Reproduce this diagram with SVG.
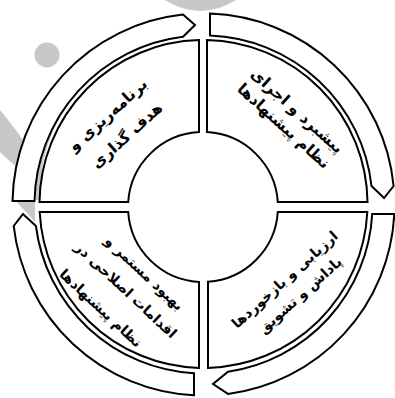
<svg xmlns="http://www.w3.org/2000/svg" width="395" height="398" viewBox="0 0 395 398">
<style>
.wm{fill:#c8c8c8;stroke:none}
.arrow{fill:#fff;stroke:#000;stroke-width:2;stroke-linejoin:miter}
.seg{fill:#fff;stroke:#000;stroke-width:2}
.t{font-family:"DejaVu Sans","Noto Sans",sans-serif;font-weight:bold;font-size:15.5px;text-anchor:middle;fill:#000}
.s{font-size:14px}
</style>
<rect width="395" height="398" fill="#fff"/>
<g id="watermark">
<circle class="wm" cx="47" cy="55" r="12.5"/>
<path class="wm" d="M165,0 Q200,22 236,0 Z"/>
<path class="wm" d="M0,110 Q18,132 24,142 L20,170 Q8,160 0,152 Z"/>
<path class="wm" d="M12,197 L35,197 L35,222 Z"/>
<path d="M38,200 A166.5 166.5 0 0 1 115,55" fill="none" stroke="#c8c8c8" stroke-width="4"/>
</g>
<g id="connectors">
<path class="arrow" d="M12.5,201 A191 191 0 0 1 183,14.6 L195,25 L183,36.8 A169 169 0 0 0 34.5,201 Z"/>
<path class="arrow" d="M210,13.6 A191 191 0 0 1 393.6,186 L384,198 L371.5,186 A169 169 0 0 0 210,35.6 Z"/>
<path class="arrow" d="M394.3,214 A191 191 0 0 1 228,393.9 L213,384 L228,371.7 A169 169 0 0 0 372.2,214 Z"/>
<path class="arrow" d="M194,395.3 A191 191 0 0 1 13.7,226 L23,214 L35.9,226 A169 169 0 0 0 194,373.2 Z"/>
</g>
<g id="node-planning">
<path class="seg" d="M39.5,202 A164 164 0 0 1 199,40.1 L199,132.1 A75 75 0 0 0 128.2,202 Z"/>
<text class="t" transform="translate(108,115) rotate(-42)" y="5">برنامه‌ریزی و</text>
<text class="t" transform="translate(127,135.5) rotate(-42)" y="5">هدف گذاری</text>
</g>
<g id="node-execution">
<path class="seg" d="M207,40 A164 164 0 0 1 367.5,202 L277.8,202 A75 75 0 0 0 207,132.1 Z"/>
<text class="t" transform="translate(297,111) rotate(42)" y="5">پیشبرد و اجرای</text>
<text class="t" transform="translate(283.5,126) rotate(42)" y="5">نظام پیشنهادها</text>
</g>
<g id="node-evaluation">
<path class="seg" d="M367.3,212 A164 164 0 0 1 208,367.9 L208,281.8 A75 75 0 0 0 277.8,212 Z"/>
<text class="t s" transform="translate(284.5,279.5) rotate(-42)" y="5">ارزیابی و بازخوردها</text>
<text class="t s" transform="translate(300,295) rotate(-42)" y="5">پاداش و تشویق</text>
</g>
<g id="node-improvement">
<path class="seg" d="M199,367.9 A164 164 0 0 1 39.7,212 L128.2,212 A75 75 0 0 0 199,281.9 Z"/>
<text class="t s" transform="translate(144.5,273) rotate(43)" y="5">بهبود مستمر و</text>
<text class="t s" transform="translate(126,290) rotate(43)" y="5">اقدامات اصلاحی در</text>
<text class="t s" transform="translate(101,308) rotate(43)" y="5">نظام پیشنهادها</text>
</g>
</svg>
